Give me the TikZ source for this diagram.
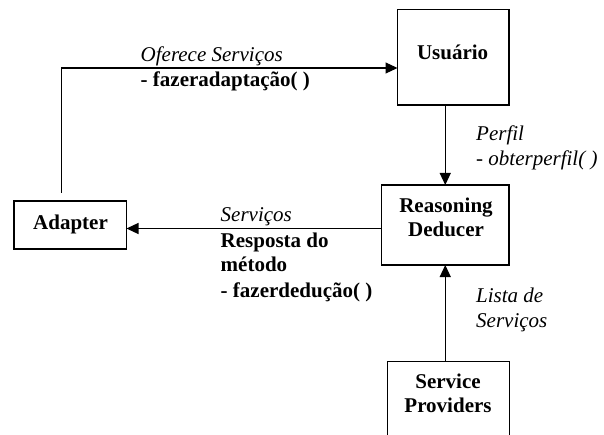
\documentclass[tikz,border=0pt]{standalone}
\usepackage{fontspec}
\setmainfont{Liberation Serif}
\usetikzlibrary{arrows.meta}

\begin{document}
\begin{tikzpicture}[
  x=1pt, y=-1pt,
  every node/.style={font=\fontsize{21}{25}\selectfont},
  box/.style={draw, line width=1.2pt, inner sep=0pt, outer sep=0pt},
  lbl/.style={font=\fontsize{21}{24}\selectfont\bfseries, inner sep=0pt, anchor=base, align=center},
  note/.style={inner sep=0pt, anchor=base west, align=left},
  conn/.style={line width=1.2pt, -{Triangle[length=12pt,width=11pt]}}
]
\useasboundingbox (0,0) rectangle (604,435);

% component boxes
\node[box, minimum width=111.5pt, minimum height=95.5pt] (usuario)   at (453.25,57.25) {};
\node[box, minimum width=127.5pt, minimum height=80pt]   (deducer)   at (445.25,225)   {};
\node[box, minimum width=122pt,   minimum height=76pt]   (providers) at (448.25,399.5) {};
\node[box, minimum width=112.5pt, minimum height=48pt]   (adapter)   at (70.25,225)    {};

% box titles (multi-line nodes sit on the baseline of their last line)
\node[lbl] (t-usuario)   at (452.6,59.5) {Usuário};
\node[lbl] (t-deducer)   at (446,237)    {Reasoning\\Deducer};
\node[lbl] (t-providers) at (448,412)    {Service\\Providers};
\node[lbl] (t-adapter)   at (70.5,230)   {Adapter};

% connectors
\coordinate (adtop) at (61.6,193);
\draw[conn] (adtop) |- ([yshift=-10.75pt]usuario.west);
\draw[conn] (deducer.north |- usuario.south) -- (deducer.north);
\draw[conn] (deducer.south |- providers.north) -- (deducer.south);
\draw[conn] ([yshift=-3.5pt]deducer.west) -- ([yshift=-3.5pt]adapter.east);

% connector labels
\node[note] (l-oferece) at (140.5,87)
  {\textit{Oferece Serviços}\\\textbf{- fazeradaptação( )}};
\node[note] (l-perfil) at (476,166)
  {\textit{Perfil}\\\textit{- obterperfil( )}};
\node[note] (l-servicos) at (220.5,297)
  {\textit{Serviços}\\\textbf{Resposta do}\\\textbf{método}\\\textbf{- fazerdedução( )}};
\node[note] (l-lista) at (476,327)
  {\textit{Lista de}\\\textit{Serviços}};
\end{tikzpicture}
\end{document}
